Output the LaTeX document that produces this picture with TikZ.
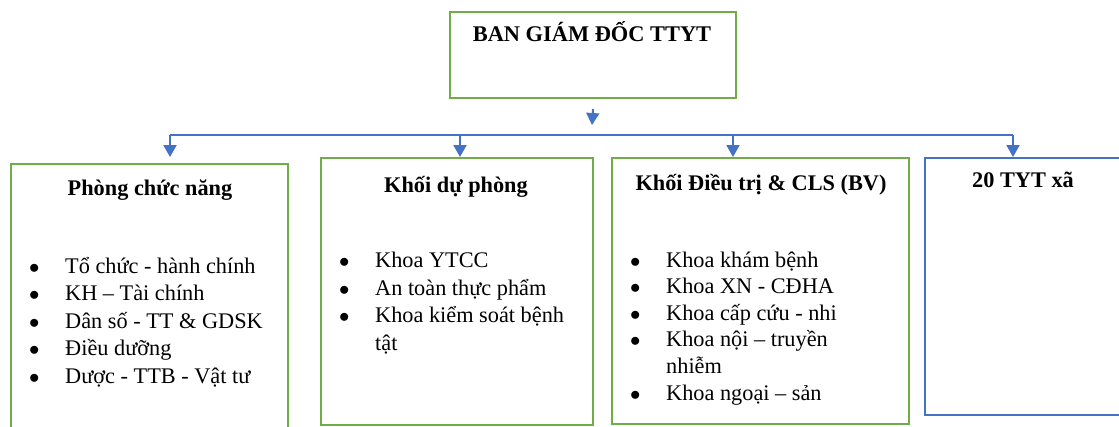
\documentclass[tikz,border=0pt]{standalone}
\usepackage{fontspec}
\setmainfont{Liberation Serif}
\usetikzlibrary{arrows.meta}

\definecolor{khung}{HTML}{70AD47}
\definecolor{xanh}{HTML}{4472C4}
\newcommand{\dm}{\makebox[36pt][l]{$\bullet$}}
\newcommand{\tiep}{\hspace*{36pt}}

\begin{document}
\begin{tikzpicture}[x=1pt,y=-1pt,>={Triangle[width=13pt,length=12pt]},
                    every node/.style={inner sep=0pt},
                    khoi/.style={draw=khung,line width=2pt,anchor=north west},
                    khoixa/.style={draw=xanh,line width=2pt,anchor=north west},
                    tieude/.style={font=\fontsize{22.3}{24}\bfseries\selectfont,anchor=base},
                    dsach/.style={font=\fontsize{22.3}{27.5}\selectfont,align=left,anchor=base west},
                    noi/.style={draw=xanh,line width=2pt}]
  \useasboundingbox (0,0) rectangle (1119,426);
  \clip (0,0) rectangle (1119,426);

  % cac khung
  \node[khoi, minimum width=286pt, minimum height=86pt] (bgd) at (449,11) {};
  \node[khoi, minimum width=277pt, minimum height=290pt] (pcn) at (10,163) {};
  \node[khoi, minimum width=272pt, minimum height=267pt] (kdp) at (320,157) {};
  \node[khoi, minimum width=297pt, minimum height=266pt] (kdt) at (611,157) {};
  \node[khoixa, minimum width=220pt, minimum height=257pt] (tyt) at (924,157) {};

  % tieu de
  \node[tieude, font=\fontsize{22.4}{24}\bfseries\selectfont] (bgdT) at (592,41) {BAN GIÁM ĐỐC TTYT};
  \node[tieude] (pcnT) at (150,195) {Phòng chức năng};
  \node[tieude] (kdpT) at (456,192) {Khối dự phòng};
  \node[tieude] (kdtT) at (761,190) {Khối Điều trị \& CLS (BV)};
  \node[tieude] (tytT) at (1023,187) {20 TYT xã};

  % danh sach (goc base = dong cuoi)
  \node[dsach] (pcnL) at (29,383) {\dm Tổ chức - hành chính\\ \dm KH – Tài chính\\
    \dm Dân số - TT \& GDSK\\ \dm Điều dưỡng\\ \dm Dược - TTB - Vật tư};
  \node[dsach] (kdpL) at (339,350) {\dm Khoa YTCC\\ \dm An toàn thực phẩm\\
    \dm Khoa kiểm soát bệnh\\ \tiep tật};
  \node[dsach, font=\fontsize{22.3}{26.6}\selectfont] (kdtL) at (630,400) {\dm Khoa khám bệnh\\ \dm Khoa XN - CĐHA\\
    \dm Khoa cấp cứu - nhi\\ \dm Khoa nội – truyền\\ \tiep nhiễm\\ \dm Khoa ngoại – sản};

  % duong noi
  \coordinate (dau) at (592,125);
  \coordinate (n1) at (170,135);
  \coordinate (n2) at (460,135);
  \coordinate (n3) at (733,135);
  \coordinate (n4) at (1013,135);
  \draw[noi,->] ([yshift=-10pt]bgd.south) -- (dau);
  \draw[noi] (n1) -- (n4);
  \draw[noi,->] (n1) -- (n1 |- kdp.north);
  \draw[noi,->] (n2) -- (n2 |- kdp.north);
  \draw[noi,->] (n3) -- (n3 |- kdt.north);
  \draw[noi,->] (n4) -- (n4 |- tyt.north);
\end{tikzpicture}
\end{document}
